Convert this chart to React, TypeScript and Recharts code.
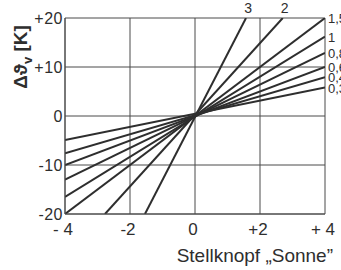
import { CartesianGrid, Line, LineChart, XAxis, YAxis } from 'recharts'

// Kennlinien: Parameter, Anfangs- und Endpunkt (Stellknopf, Δϑ in K)
const lineNames = ['3', '2', '1,5', '1', '0,8', '0,6', '0,4', '0,3']
const startX = [-1.54, -2.77, -4, -4, -4, -4, -4, -4]
const startY = [-20, -20, -20, -16.5, -13, -10, -7.6, -4.9]
const endX = [1.57, 2.7, 4, 4, 4, 4, 4, 4]
const endY = [20, 20, 20, 16.2, 12.9, 10, 7.9, 5.8]

const xTicks = [-4, -2, 0, 2, 4]
const xTickLabels = ['- 4', '-2', '0', '+2', '+ 4']
const yTicks = [-20, -10, 0, 10, 20]
const yTickLabels = ['-20', '-10', '0', '+10', '+20']

const INK = '#2e2e2e'
const GRID = '#4a4a4a'
const FONT = '"Liberation Sans", Arial, sans-serif'

const series = lineNames.map((name, i) => ({
  name,
  data: [
    { x: startX[i], y: startY[i] },
    { x: endX[i], y: endY[i] },
  ],
}))

function EndLabel(props: any) {
  const { x, y, index, name } = props
  if (index !== 1) return null
  const onTop = name === '3' || name === '2'
  if (onTop) {
    return (
      <text x={x + 2} y={y - 5} textAnchor="middle" fontSize={14} fill={INK} fontFamily={FONT}>
        {name}
      </text>
    )
  }
  return (
    <text x={x + 3} y={y + 5} textAnchor="start" fontSize={13} fill={INK} fontFamily={FONT}>
      {name}
    </text>
  )
}

export default function App() {
  return (
    <div style={{ position: 'absolute', left: 0, top: 0, width: 341, height: 270, background: '#fff' }}>
      <LineChart width={341} height={270} margin={{ top: 18, right: 16, bottom: 0, left: 0 }}>
        <CartesianGrid stroke={GRID} strokeWidth={1} />
        <XAxis
          type="number"
          dataKey="x"
          domain={[-4, 4]}
          ticks={xTicks}
          allowDataOverflow
          height={56}
          axisLine={{ stroke: GRID }}
          tickLine={false}
          tickSize={6}
          tickMargin={3}
          tick={{ fontSize: 17, fill: INK, fontFamily: FONT, dx: -2 }}
          tickFormatter={(v) => xTickLabels[xTicks.indexOf(v)]}
          label={{
            content: () => (
              <text x={333} y={262} textAnchor="end" fontSize={19} fill={INK} fontFamily={FONT}>
                Stellknopf „Sonne”
              </text>
            ),
          }}
        />
        <YAxis
          type="number"
          domain={[-20, 20]}
          ticks={yTicks}
          allowDataOverflow
          width={65}
          axisLine={{ stroke: GRID }}
          tickLine={false}
          tickSize={2}
          tickMargin={0}
          tick={{ fontSize: 16, fill: INK, fontFamily: FONT, letterSpacing: 0.5 }}
          tickFormatter={(v) => yTickLabels[yTicks.indexOf(v)]}
          label={{
            content: () => (
              <text
                x={0}
                y={0}
                transform="translate(27 57) rotate(-90)"
                textAnchor="middle"
                fontSize={19}
                fontWeight="bold"
                fill={INK}
                fontFamily={FONT}
              >
                Δϑ<tspan fontSize={13} dy={5}>v</tspan>
                <tspan dy={-5}> [K]</tspan>
              </text>
            ),
          }}
        />
        {series.map((s) => (
          <Line
            key={s.name}
            data={s.data}
            dataKey="y"
            type="linear"
            stroke={INK}
            strokeWidth={2}
            dot={false}
            isAnimationActive={false}
            label={(p: any) => <EndLabel {...p} name={s.name} />}
          />
        ))}
      </LineChart>
    </div>
  )
}
